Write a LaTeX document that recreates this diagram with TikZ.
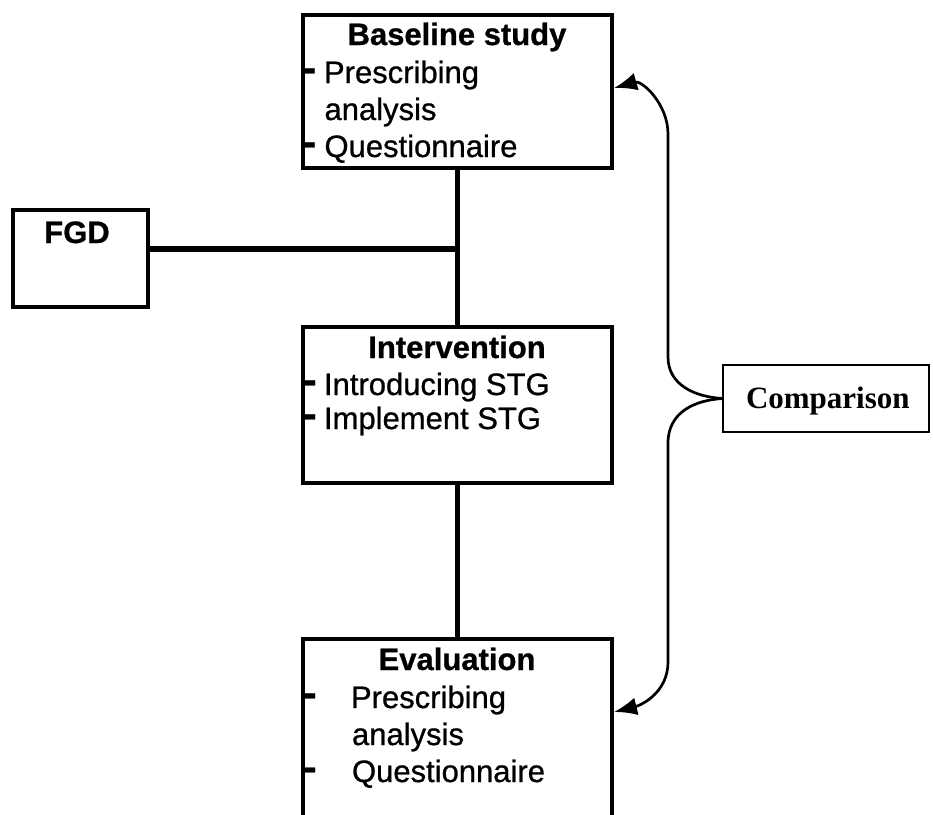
\documentclass[tikz,border=0pt]{standalone}
\usepackage{fontspec}
\setmainfont{Liberation Sans}[RawFeature={embolden=0.8}]
\newfontfamily\serifbf{Liberation Serif}
\usetikzlibrary{arrows.meta}
\begin{document}
\begin{tikzpicture}[x=1pt,y=-1pt,
  box/.style={draw, rectangle, line width=4.5pt, inner sep=0pt, outer sep=0pt},
  cbox/.style={draw, rectangle, line width=2.4pt, inner sep=0pt, outer sep=0pt},
  conn/.style={line width=5.5pt},
  curve/.style={line width=2.7pt, -{Latex[length=23pt,width=18pt]}},
  txt/.style={inner sep=0pt, outer sep=0pt, font=\fontsize{31}{37}\selectfont},
  ttl/.style={txt, font=\fontsize{31}{37}\selectfont\bfseries},
  dsh/.style={inner sep=0pt, outer sep=0pt, font=\fontsize{31}{37}\selectfont\bfseries, anchor=base west}]
\path[use as bounding box] (0,0) rectangle (933,814);
\clip (0,0) rectangle (933,814);
\fill[white] (0,0) rectangle (933,814);

% boxes
\node[box, minimum width=309pt, minimum height=153pt] (base) at (457.5,91.5) {};
\node[box, minimum width=135pt, minimum height=97pt] (fgd) at (80.5,258.5) {};
\node[box, minimum width=309pt, minimum height=156pt] (int) at (457.5,405) {};
\node[box, minimum width=309pt, minimum height=261pt] (eval) at (457.5,769.5) {};
\node[cbox, minimum width=206pt, minimum height=67pt] (cmp) at (826,398.5) {};

% baseline text
\node[ttl, anchor=base] (bt) at (457,45) {Baseline study};
\node[dsh] (bd1) at (300,81) {\scalebox{1.6}[1.25]{-}};
\node[txt, anchor=base west] (b1) at (324,83) {Prescribing};
\node[txt, anchor=base west] (b2) at (324.5,120) {analysis};
\node[dsh] (bd2) at (300,155) {\scalebox{1.6}[1.25]{-}};
\node[txt, anchor=base west] (b3) at (324.5,157) {Questionnaire};

% FGD text
\node[ttl, anchor=base] (ft) at (77,243) {FGD};

% intervention text
\node[ttl, anchor=base] (it) at (457,358) {Intervention};
\node[dsh] (id1) at (300.5,393) {\scalebox{1.6}[1.25]{-}};
\node[txt, anchor=base west] (i1) at (324,395) {Introducing STG};
\node[dsh] (id2) at (300.5,427) {\scalebox{1.6}[1.25]{-}};
\node[txt, anchor=base west] (i2) at (324,429) {Implement STG};

% evaluation text
\node[ttl, anchor=base] (et) at (457,670) {Evaluation};
\node[dsh] (ed1) at (300.5,706) {\scalebox{1.6}[1.25]{-}};
\node[txt, anchor=base west] (e1) at (351,708) {Prescribing};
\node[txt, anchor=base west] (e2) at (352,745) {analysis};
\node[dsh] (ed2) at (300.5,780) {\scalebox{1.6}[1.25]{-}};
\node[txt, anchor=base west] (e3) at (352,782) {Questionnaire};

% comparison text
\node[inner sep=0pt, outer sep=0pt, anchor=base west, font=\fontsize{31}{37}\selectfont\serifbf\bfseries] (ct) at (746,408) {Comparison};

% connectors
\coordinate (j) at (457.5,249);
\draw[conn] (base.south) -- (int.north);
\draw[conn] (fgd.east |- j) -- (j);
\draw[conn] (int.south) -- (eval.north);

% comparison curves
\coordinate (bin) at (614,88);
\coordinate (ein) at (614,712);
\draw[curve] (cmp.west) .. controls (695,397) and (668,385) .. (668,357) -- (668,134) .. controls (668,104) and (642,80) .. (bin);
\draw[curve] (cmp.west) .. controls (695,400) and (668,412) .. (668,443) -- (668,662) .. controls (668,692) and (642,705) .. (ein);
\end{tikzpicture}
\end{document}
